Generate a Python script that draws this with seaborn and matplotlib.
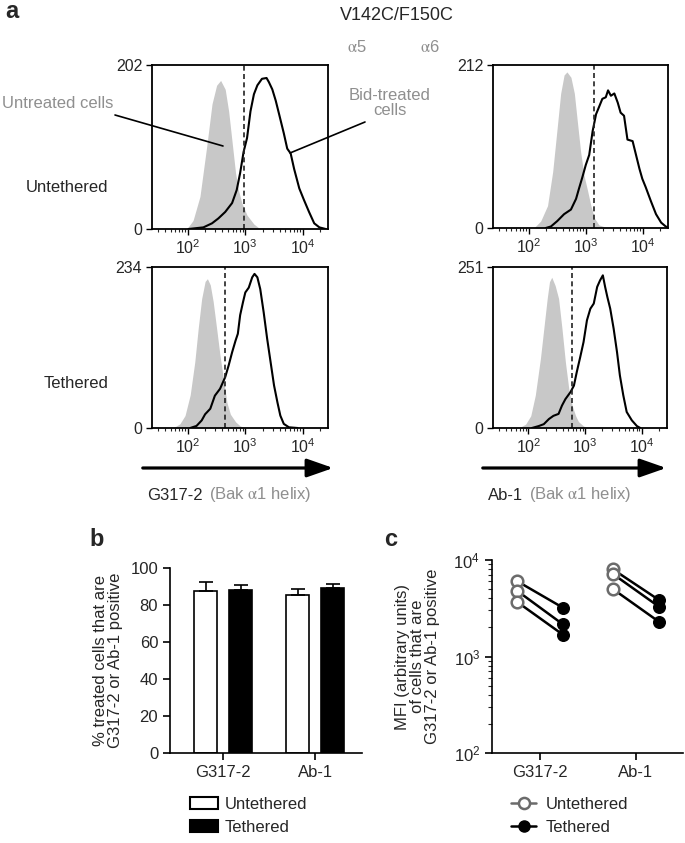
import numpy as np
import pandas as pd
import seaborn as sns
import matplotlib.pyplot as plt
from matplotlib.patches import FancyArrowPatch, Patch
from matplotlib.lines import Line2D
from matplotlib.ticker import LogLocator, NullFormatter

sns.set_theme(style="ticks")
plt.rcParams['font.family'] = ['Liberation Sans', 'DejaVu Sans']
plt.rcParams['mathtext.fontset'] = 'stix'

# ---- panel a: flow histograms (x = log10 fluorescence, y = cell count) ----
# untethered, G317-2
ut_g_untr_x = [1.98, 2.09, 2.21, 2.33, 2.42, 2.50, 2.57, 2.65, 2.71, 2.77, 2.83, 2.88, 2.94, 3.03, 3.15, 3.26]
ut_g_untr_n = [0, 10.5, 40, 103, 154, 177, 183, 172, 145, 107, 69, 48, 32, 17, 6, 0]
ut_g_bid_x = [2.01, 2.27, 2.42, 2.53, 2.65, 2.77, 2.85, 2.91, 2.97, 3.03, 3.09, 3.15, 3.21, 3.29, 3.37,
              3.41, 3.47, 3.53, 3.59, 3.67, 3.73, 3.79, 3.85, 3.94, 4.02, 4.11, 4.20, 4.29, 4.40]
ut_g_bid_n = [0, 2, 7, 13, 21, 32, 48, 69, 95, 112, 145, 166, 177, 185, 186,
              181, 172, 158, 141, 118, 99, 93, 74, 50, 36, 21, 7, 2, 0]
# untethered, Ab-1
ut_a_untr_x = [2.09, 2.21, 2.33, 2.42, 2.50, 2.56, 2.62, 2.67, 2.74, 2.80, 2.85, 2.91, 2.97, 3.03, 3.09,
               3.15, 3.23, 3.35, 3.44]
ut_a_untr_n = [0, 9, 29, 73, 131, 175, 199, 203, 196, 175, 140, 99, 68, 49, 29, 13, 4, 1, 0]
ut_a_bid_x = [2.30, 2.39, 2.50, 2.62, 2.74, 2.83, 2.88, 2.94, 3.00, 3.06, 3.12, 3.18, 3.23, 3.29, 3.35,
              3.39, 3.44, 3.50, 3.56, 3.61, 3.67, 3.73, 3.82, 3.88, 3.94, 3.99, 4.05, 4.14, 4.23, 4.32,
              4.40, 4.46]
ut_a_bid_n = [0, 2, 9, 18, 24, 38, 51, 66, 82, 95, 126, 148, 157, 168, 170,
              179, 172, 175, 163, 150, 146, 115, 113, 95, 77, 64, 53, 35, 18, 7,
              2, 0]
# tethered, G317-2
te_g_untr_x = [1.74, 1.86, 1.95, 2.04, 2.12, 2.18, 2.24, 2.30, 2.34, 2.39, 2.44, 2.50, 2.56, 2.62, 2.68,
               2.74, 2.83, 2.91, 3.00]
te_g_untr_n = [0, 6, 18, 48, 96, 145, 188, 213, 217, 208, 184, 145, 105, 71, 37, 20, 9, 3, 0]
te_g_bid_x = [2.04, 2.15, 2.24, 2.30, 2.39, 2.47, 2.56, 2.65, 2.71, 2.77, 2.83, 2.87, 2.91, 2.96, 3.00,
              3.06, 3.12, 3.16, 3.21, 3.26, 3.32, 3.38, 3.44, 3.50, 3.56, 3.61, 3.67, 3.76, 3.91]
te_g_bid_n = [0, 3, 11, 20, 28, 47, 57, 74, 91, 110, 127, 137, 164, 183, 197,
              204, 219, 224, 219, 202, 168, 130, 96, 62, 37, 18, 6, 1, 0]
# tethered, Ab-1
te_a_untr_x = [1.83, 1.95, 2.04, 2.12, 2.21, 2.27, 2.33, 2.37, 2.41, 2.47, 2.53, 2.59, 2.65, 2.71, 2.77,
               2.83, 2.88, 2.97, 3.06]
te_a_untr_n = [0, 6, 19, 51, 108, 155, 202, 228, 235, 222, 202, 155, 103, 61, 35, 19, 10, 3, 0]
te_a_bid_x = [2.06, 2.18, 2.27, 2.36, 2.44, 2.53, 2.59, 2.65, 2.74, 2.80, 2.85, 2.91, 2.97, 3.03, 3.09,
              3.15, 3.21, 3.26, 3.31, 3.35, 3.39, 3.44, 3.50, 3.56, 3.61, 3.67, 3.73, 3.82, 3.91, 3.97]
te_a_bid_n = [0, 3, 6, 14, 19, 22, 35, 45, 56, 66, 87, 110, 134, 168, 186,
              194, 220, 230, 238, 220, 204, 186, 155, 118, 82, 51, 25, 12, 3, 0]

hist_ymax = [202, 212, 234, 251]
hist_gate = [950, 1380, 445, 590]

# ---- panel b ----
b_antibody = ["G317-2", "G317-2", "Ab-1", "Ab-1"]
b_tether = ["Untethered", "Tethered", "Untethered", "Tethered"]
b_mean = [87.3, 87.9, 85.2, 89.3]
b_err = [4.9, 2.9, 3.4, 2.0]

# ---- panel c (MFI, three experiments each) ----
c_g317_unteth = [6050, 4810, 3690]
c_g317_teth = [3200, 2150, 1680]
c_ab1_unteth = [8000, 7160, 5000]
c_ab1_teth = [3850, 3280, 2290]

W, H = 685, 843
GREY = '#8f8f8f'
FS = 12
ALPHA = r'$\mathrm{\alpha}$'


def fbox(l, t, r, b):
    return [l / W, 1 - b / H, (r - l) / W, (b - t) / H]


def fxy(x, y):
    return (x / W, 1 - y / H)


fig = plt.figure(figsize=(W / 100, H / 100), dpi=100)

hist_boxes = [(152, 65, 328, 229), (493, 65, 668, 228), (152, 267, 328, 428), (493, 267, 667, 428)]
hist_data = [(ut_g_untr_x, ut_g_untr_n, ut_g_bid_x, ut_g_bid_n),
             (ut_a_untr_x, ut_a_untr_n, ut_a_bid_x, ut_a_bid_n),
             (te_g_untr_x, te_g_untr_n, te_g_bid_x, te_g_bid_n),
             (te_a_untr_x, te_a_untr_n, te_a_bid_x, te_a_bid_n)]

for bx, (gx, gn, bxs, bn), ymax, gate in zip(hist_boxes, hist_data, hist_ymax, hist_gate):
    ax = fig.add_axes(fbox(*bx))
    ax.fill_between(10 ** np.array(gx), gn, color='#c8c8c8', lw=0)
    sns.lineplot(x=10 ** np.array(bxs), y=bn, color='black', lw=1.5, ax=ax)
    ax.axvline(gate, color='#222222', lw=1.2, ls=(0, (3, 2)))
    ax.set_xscale('log')
    ax.set_xlim(10 ** 1.375, 10 ** 4.44)
    ax.set_ylim(0, ymax)
    ax.set_yticks([0, ymax])
    ax.set_xticks([1e2, 1e3, 1e4])
    ax.xaxis.set_minor_locator(LogLocator(base=10, subs=np.arange(2, 10), numticks=20))
    ax.xaxis.set_minor_formatter(NullFormatter())
    ax.tick_params(axis='both', which='major', labelsize=11.5, length=4, width=1, color='black', pad=3)
    ax.tick_params(axis='x', which='minor', length=2.5, width=0.8)
    for s in ax.spines.values():
        s.set_linewidth(1.3)
        s.set_color('black')

fig.text(*fxy(5, 12), 'a', fontsize=17, fontweight='bold', ha='left', va='center')
fig.text(*fxy(397, 15), 'V142C/F150C', fontsize=13, ha='center', va='center')
fig.text(*fxy(357, 47), ALPHA + '5', fontsize=12, color=GREY, ha='center', va='center')
fig.text(*fxy(430, 47), ALPHA + '6', fontsize=12, color=GREY, ha='center', va='center')
fig.text(*fxy(108, 187), 'Untethered', fontsize=FS, ha='right', va='center')
fig.text(*fxy(108, 383), 'Tethered', fontsize=FS, ha='right', va='center')
fig.text(*fxy(58, 103), 'Untreated cells', fontsize=FS, color=GREY, ha='center', va='center')
fig.text(*fxy(390, 103), 'Bid-treated\ncells', fontsize=FS, color=GREY, ha='center', va='center',
         linespacing=1.0)
fig.add_artist(Line2D([115 / W, 223 / W], [1 - 115 / H, 1 - 146 / H], color='black', lw=1.2))
fig.add_artist(Line2D([365 / W, 290 / W], [1 - 122 / H, 1 - 153 / H], color='black', lw=1.2))

for x0, x1 in [(140, 336), (480, 669)]:
    fig.add_artist(FancyArrowPatch(fxy(x0, 468), fxy(x1, 468), transform=fig.transFigure,
                                   arrowstyle='-|>,head_length=1.0,head_width=0.35',
                                   mutation_scale=16, lw=2.3, color='black'))
fig.text(*fxy(147, 495), 'G317-2', fontsize=FS, ha='left', va='center')
fig.text(*fxy(209, 495), '(Bak ' + ALPHA + '1 helix)', fontsize=FS, color=GREY, ha='left', va='center')
fig.text(*fxy(488, 495), 'Ab-1', fontsize=FS, ha='left', va='center')
fig.text(*fxy(529, 495), '(Bak ' + ALPHA + '1 helix)', fontsize=FS, color=GREY, ha='left', va='center')

# ---- panel b: bars ----
df_b = pd.DataFrame({'antibody': b_antibody, 'tether': b_tether, 'pct': b_mean, 'err': b_err})
axb = fig.add_axes(fbox(170, 568, 362, 753))
cats = ['G317-2', 'Ab-1']
levels = ['Untethered', 'Tethered']
sns.barplot(data=df_b, x='antibody', y='pct', hue='tether', order=cats, hue_order=levels,
            palette={'Untethered': 'white', 'Tethered': 'black'}, edgecolor='black', linewidth=1.2,
            width=0.76, gap=0.32, errorbar=None, legend=False, ax=axb)
for cont, lvl in zip(axb.containers, levels):
    for bar, cat in zip(cont, cats):
        e = df_b[(df_b.antibody == cat) & (df_b.tether == lvl)].err.iloc[0]
        axb.errorbar(bar.get_x() + bar.get_width() / 2, bar.get_height(), yerr=[[0], [e]],
                     fmt='none', ecolor='black', elinewidth=1.2, capsize=5, capthick=1.2)
axb.set_xlim(-0.576, 1.51)
axb.set_ylim(0, 100)
axb.set_yticks(range(0, 101, 20))
axb.set_xlabel('')
axb.set_ylabel('% treated cells that are\nG317-2 or Ab-1 positive', fontsize=FS, linespacing=1.0)
axb.yaxis.set_label_coords(-0.245, 0.5)
sns.despine(ax=axb)
for s in axb.spines.values():
    s.set_linewidth(1.2)
    s.set_color('black')
axb.tick_params(labelsize=FS, length=5, width=1.2, color='black')
axb.legend(handles=[Patch(fc='white', ec='black', lw=1.5), Patch(fc='black', ec='black', lw=1.5)],
           labels=levels, loc='upper left', bbox_to_anchor=fxy(190, 797), bbox_transform=fig.transFigure,
           frameon=False, fontsize=FS, handlelength=1.7, handleheight=0.7, handletextpad=0.4,
           labelspacing=0.45, borderpad=0, borderaxespad=0)
fig.text(*fxy(97, 540), 'b', fontsize=17, fontweight='bold', ha='center', va='center')

# ---- panel c: paired MFI ----
rows = []
pair = 0
for ci, (unt, teth) in enumerate([(c_g317_unteth, c_g317_teth), (c_ab1_unteth, c_ab1_teth)]):
    for u, t in zip(unt, teth):
        rows.append({'pair': pair, 'x': ci - 0.24, 'mfi': u, 'tether': 'Untethered'})
        rows.append({'pair': pair, 'x': ci + 0.24, 'mfi': t, 'tether': 'Tethered'})
        pair += 1
df_c = pd.DataFrame(rows)

axc = fig.add_axes(fbox(492, 560, 683, 753))
sns.lineplot(data=df_c, x='x', y='mfi', units='pair', estimator=None, color='black', lw=1.8,
             legend=False, ax=axc)
sns.scatterplot(data=df_c[df_c.tether == 'Untethered'], x='x', y='mfi', s=70, color='white',
                edgecolor='#6b6b6b', linewidth=1.8, zorder=3, ax=axc)
sns.scatterplot(data=df_c[df_c.tether == 'Tethered'], x='x', y='mfi', s=70, color='black',
                edgecolor='black', linewidth=1.0, zorder=3, ax=axc)
axc.set_yscale('log')
axc.set_ylim(100, 10000)
axc.set_xlim(-0.5, 1.49)
axc.set_xticks([0, 1])
axc.set_xticklabels(cats)
axc.set_xlabel('')
axc.set_ylabel('MFI (arbitrary units)\nof cells that are\nG317-2 or Ab-1 positive', fontsize=FS,
               linespacing=1.0)
axc.yaxis.set_label_coords(-0.272, 0.5)
sns.despine(ax=axc)
for s in axc.spines.values():
    s.set_linewidth(1.2)
    s.set_color('black')
axc.tick_params(labelsize=FS, length=5, width=1.2, color='black')
axc.tick_params(axis='y', which='minor', length=3, width=0.8)
axc.legend(handles=[Line2D([0], [0], color='#6b6b6b', marker='o', mfc='white', mec='#6b6b6b', mew=1.8,
                           ms=8, lw=1.8),
                    Line2D([0], [0], color='black', marker='o', mfc='black', mec='black', ms=8, lw=1.8)],
           labels=levels, loc='upper left', bbox_to_anchor=fxy(511, 797), bbox_transform=fig.transFigure,
           frameon=False, fontsize=FS, handlelength=1.5, handletextpad=0.6, labelspacing=0.45,
           borderpad=0, borderaxespad=0)
fig.text(*fxy(391, 540), 'c', fontsize=17, fontweight='bold', ha='center', va='center')

fig.savefig('out.png', dpi=100)
